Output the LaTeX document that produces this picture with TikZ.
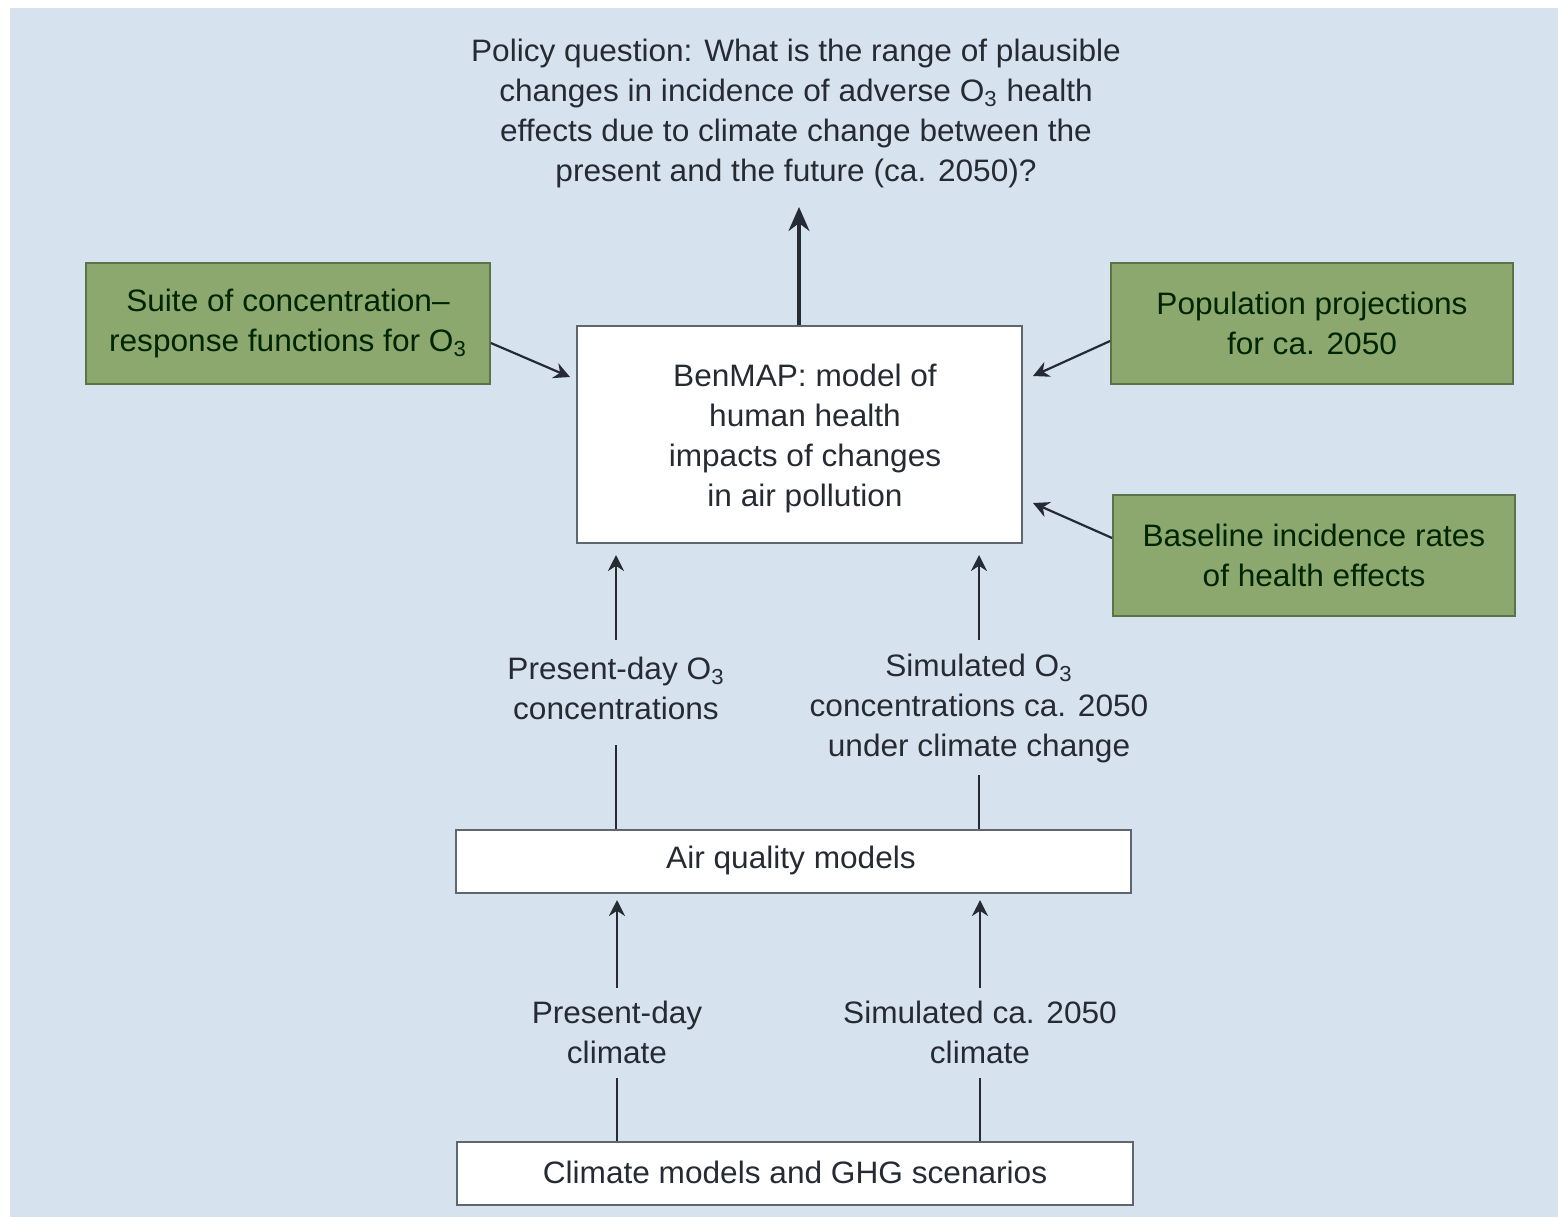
\documentclass[tikz,border=0pt]{standalone}
\usepackage{fontspec}
\setmainfont[FakeStretch=1.02]{Liberation Sans}
\usetikzlibrary{arrows.meta}
\definecolor{bgblue}{HTML}{D6E3EF}
\definecolor{boxgreen}{HTML}{8CA86F}
\definecolor{greenedge}{HTML}{5A7447}
\definecolor{inkc}{HTML}{262A33}
\definecolor{edgec}{HTML}{5E6670}
\tikzset{
  txt/.style={font=\fontsize{15.5}{20}\selectfont, text=inkc, align=center, inner sep=0pt},
  gbox/.style={txt, draw=greenedge, line width=0.9pt, fill=boxgreen, text=black!85!green, minimum width=201pt, minimum height=60.5pt},
  wbox/.style={txt, draw=edgec, line width=0.7pt, fill=white},
  arr/.style={draw=inkc, line width=1.1pt, -{Stealth[length=8pt, width=8pt]}},
  bigarr/.style={draw=inkc, line width=1.7pt, -{Stealth[length=12pt, width=10.5pt]}},
  ln/.style={draw=inkc, line width=1.1pt},
}
\begin{document}
\begin{tikzpicture}[x=0.5pt, y=-0.5pt]
\useasboundingbox (0,0) rectangle (1558,1217);
\fill[white] (0,0) rectangle (1558,1217);
\fill[bgblue] (10,8) rectangle (1558,1217);

% title
\node[txt] (policy) at (796,113) {Policy question: What is the range of plausible\\
changes in incidence of adverse O\textsubscript{3} health\\
effects due to climate change between the\\
present and the future (ca. 2050)?};
\coordinate (tip) at (799,207);

% BenMAP
\node[wbox, minimum width=222.5pt, minimum height=108.5pt] (benmap) at (799.5,434.5) {};
\node[txt] (bentext) at (805,438) {BenMAP: model of\\ human health\\ impacts of changes\\ in air pollution};

% green boxes
\node[gbox, minimum width=202pt] (crf) at (288,323.5) {Suite of concentration--\\ response functions for O\textsubscript{3}};
\node[gbox] (pop) at (1312,323.5) {Population projections\\ for ca. 2050};
\node[gbox] (base) at (1314,555.5) {Baseline incidence rates\\ of health effects};

% anchors on benmap
\coordinate (inL) at (570,377);
\coordinate (inR1) at (1033,376);
\coordinate (inR2) at (1033,503);

% labels middle
\node[txt] (o3now) at (616,688) {Present-day O\textsubscript{3}\\ concentrations};
\node[txt] (o3fut) at (979,708) {Simulated O\textsubscript{3}\\ concentrations ca. 2050\\ under climate change};

% air quality box
\node[wbox, minimum width=337.5pt, minimum height=31.5pt] (aq) at (793.5,861.5) {};
\node[txt] (aqtext) at (791,860) {Air quality models};

% labels lower
\node[txt] (clnow) at (617,1032) {Present-day\\ climate};
\node[txt] (clfut) at (980,1032) {Simulated ca. 2050\\ climate};

% climate box
\node[wbox, minimum width=338pt, minimum height=31.5pt] (cm) at (795,1173.5) {};
\node[txt] (cmtext) at (795,1172) {Climate models and GHG scenarios};

% connectors
\draw[bigarr] (benmap.north -| tip) -- (tip);
\draw[arr] (crf.east |- 0,343) -- (inL);
\draw[arr] (pop.west |- 0,341) -- (inR1);
\draw[arr] (base.west |- 0,538) -- (inR2);

\coordinate (a1s) at (616,640);
\coordinate (a2s) at (979,640);
\draw[arr] (a1s) -- (616,555);
\draw[arr] (a2s) -- (979,555);
\draw[ln] (aq.north -| o3now) -- (616,745);
\draw[ln] (aq.north -| o3fut) -- (979,775);

\coordinate (b1s) at (617,988);
\coordinate (b2s) at (980,988);
\draw[arr] (b1s) -- (617,900);
\draw[arr] (b2s) -- (980,900);
\draw[ln] (cm.north -| clnow) -- (617,1078);
\draw[ln] (cm.north -| clfut) -- (980,1078);
\end{tikzpicture}
\end{document}
